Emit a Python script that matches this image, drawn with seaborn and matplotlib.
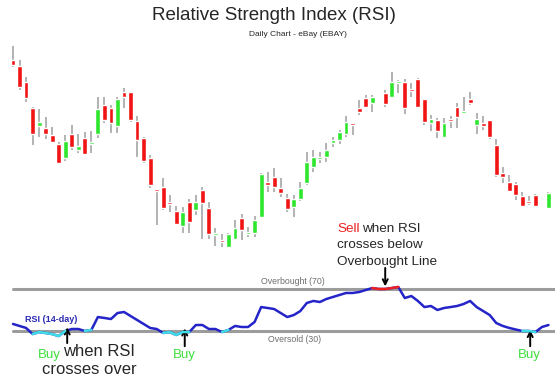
import numpy as np
import pandas as pd
import matplotlib
matplotlib.use("Agg")
import matplotlib.pyplot as plt
import seaborn as sns

nan = np.nan

# daily bars (price scale is arbitrary, axes are hidden); nan = no bar
opens = [24.0, 23.4, 21.8, 19.2, 17.4, 17.2, 16.5, 15.6, 14.2, 16.6,
         15.0, 16.2, 15.6, 16.6, 19.5, 19.2, 17.4, 20.8, 20.8, 17.9,
         16.2, 14.2, 11.1, 11.3, 9.8, 8.9, 7.4, 9.8, 9.0, 11.0,
         9.2, 6.5, 6.0, 5.3, 6.1, 8.2, 6.6, 6.7, 8.3, 11.8,
         12.3, 11.2, 10.2, 9.3, 10.1, 11.7, 13.3, 14.1, 14.3, 15.7,
         16.0, 16.6, 17.7, 19.2, 20.2, 19.7, nan, 20.7, 20.3, 21.7,
         21.8, 21.1, 22.1, 20.1, 17.7, 18.0, 16.3, 18.0, 19.3, 18.7,
         20.1, 17.5, 17.7, 18.0, 15.5, 12.7, 11.8, 11.6, 10.4, 9.8,
         10.5, nan, 9.2]
highs = [25.4, 24.0, 22.3, 19.3, 19.1, 18.3, 17.3, 15.8, 16.5, 17.5,
         16.6, 16.8, 16.9, 20.3, 20.3, 19.5, 20.3, 21.2, 20.8, 18.4,
         16.3, 14.5, 11.1, 12.2, 10.5, 9.4, 9.3, 10.1, 10.5, 11.3,
         9.8, 7.2, 6.6, 6.7, 8.0, 8.6, 7.3, 8.4, 12.7, 12.8,
         13.2, 12.2, 10.6, 10.5, 11.8, 14.8, 15.0, 14.8, 15.7, 16.3,
         17.0, 18.4, 17.7, 20.0, 20.5, 20.5, nan, 21.0, 22.8, 22.0,
         22.1, 21.7, 22.2, 20.1, 18.5, 18.2, 18.2, 18.4, 19.7, 20.3,
         20.8, 18.7, 18.4, 18.0, 16.1, 13.3, 12.5, 11.8, 10.8, 10.4,
         10.6, nan, 10.8]
lows = [23.3, 21.0, 19.8, 15.5, 16.3, 16.1, 15.7, 13.6, 13.9, 15.0,
        14.7, 14.5, 14.7, 16.2, 17.7, 16.7, 16.7, 19.2, 17.8, 14.3,
        13.7, 11.2, 7.5, 9.0, 8.8, 7.5, 6.7, 6.7, 8.5, 6.1,
        6.1, 5.4, 5.3, 5.2, 6.0, 6.0, 6.3, 6.3, 8.2, 10.8,
        10.8, 10.3, 8.8, 8.3, 9.9, 11.5, 12.8, 13.7, 13.8, 15.3,
        15.6, 16.3, 16.5, 18.5, 19.2, 18.8, nan, 19.3, 20.3, 20.7,
        18.6, 20.3, 19.2, 17.5, 16.9, 16.2, 16.2, 17.2, 17.2, 18.6,
        19.5, 16.6, 17.0, 16.1, 12.3, 11.7, 10.8, 10.0, 9.3, 9.5,
        9.3, nan, 9.1]
closes = [23.5, 21.3, 20.2, 16.6, 17.8, 16.6, 15.8, 13.7, 15.9, 15.3,
          15.4, 14.6, 15.8, 19.1, 18.0, 17.7, 20.1, 20.3, 18.0, 16.0,
          13.9, 11.5, 10.9, 9.2, 9.6, 7.6, 8.8, 7.8, 9.8, 9.7,
          6.6, 6.7, 5.8, 6.6, 7.2, 7.0, 6.7, 8.0, 12.6, 11.5,
          11.3, 10.7, 9.1, 10.1, 11.2, 13.8, 14.3, 14.3, 15.0, 16.0,
          16.8, 17.8, 17.5, 18.8, 19.3, 20.3, nan, 19.6, 21.8, 21.8,
          19.2, 20.9, 19.3, 17.8, 18.1, 16.9, 17.7, 17.9, 18.3, 18.8,
          19.7, 18.1, 17.4, 16.3, 12.5, 12.3, 10.9, 10.5, 9.4, 9.7,
          9.4, nan, 10.7]

# 14-day RSI per day
rsi = [36.7, 34.8, 32.9, 27.1, 29.0, 28.1, 27.1, 25.2, 30.0, 31.9,
       31.9, 30.0, 31.0, 43.3, 42.4, 41.4, 47.1, 48.1, 44.3, 40.5,
       36.7, 32.9, 31.9, 28.1, 29.0, 26.2, 29.0, 29.0, 35.7, 35.7,
       31.9, 31.9, 29.0, 31.0, 34.8, 33.8, 33.8, 38.6, 52.8, 51.9,
       50.9, 47.1, 43.3, 45.2, 49.0, 56.7, 58.6, 57.6, 60.5, 62.4,
       64.3, 66.2, 66.2, 67.1, 69.0, 70.9, 70.0, 70.0, 70.9, 71.9,
       61.4, 63.3, 58.6, 52.8, 53.8, 50.0, 51.9, 52.8, 53.8, 55.7,
       58.6, 52.8, 49.0, 45.2, 37.6, 34.8, 32.9, 31.4, 30.0, 30.0,
       29.0, 33.8, 35.7]

overbought, oversold = 70, 30

sns.set_style("white")
plt.rcParams["font.family"] = ["Liberation Sans", "DejaVu Sans"]

W, H = 555, 377
def fx(px):
    return px / W
def fy(py):
    return 1 - py / H

days = np.arange(len(rsi))
bars = pd.DataFrame({"day": days, "open": opens, "high": highs, "low": lows, "close": closes}).dropna()
rsi_df = pd.DataFrame({"day": days, "rsi": rsi})

fig = plt.figure(figsize=(W / 100, H / 100), dpi=100)
fig.patch.set_facecolor("white")
xlim = (-1.99, 83.0)

# price panel
ax1 = fig.add_axes([0, fy(255), 1, 215 / H])
up = bars["close"] >= bars["open"]
body_lo = bars[["open", "close"]].min(axis=1)
body_h = np.maximum((bars["close"] - bars["open"]).abs(), 0.18)
ax1.vlines(bars["day"], bars["low"], bars["high"], color="#a6a6a6", lw=1.2, zorder=1)
ax1.bar(bars["day"], body_h, bottom=body_lo, width=0.74,
        color=np.where(up, "#2ee62e", "#f01414"), zorder=2)
ax1.set_xlim(*xlim)
ax1.set_ylim(4.5, 26.0)
ax1.axis("off")

# RSI panel
ax2 = fig.add_axes([0, 0, 1, 117 / H])
ax2.patch.set_alpha(0)
for lvl in (overbought, oversold):
    ax2.axhline(lvl, xmin=13 / W, color="#9c9c9c", lw=2.2, zorder=1)
sns.lineplot(data=rsi_df, x="day", y="rsi", color="#2424c8", lw=1.8, ax=ax2, zorder=3)
for mask, col in [(rsi_df["rsi"] <= oversold + 1, "#3fdde6"),
                  (rsi_df["rsi"] >= overbought, "#ee2020")]:
    ax2.plot(rsi_df["day"], rsi_df["rsi"].where(mask), color=col, lw=1.8, zorder=4)
ax2.set_xlim(*xlim)
ax2.set_ylim(-13.8, 97.6)
ax2.axis("off")

arrow = dict(arrowstyle="->", color="black", lw=1.4, mutation_scale=9, shrinkA=0, shrinkB=0)
ax2.annotate("", xy=(57.0, 72.5), xytext=(57.0, 90.0), arrowprops=arrow, annotation_clip=False)
for d, tip, tail in [(8.3, 33.5, 18.5), (26.3, 32.5, 15.5), (79.2, 31.0, 15.5)]:
    ax2.annotate("", xy=(d, tip), xytext=(d, tail), arrowprops=arrow, annotation_clip=False)

# titles and labels
fig.text(fx(274), fy(16), "Relative Strength Index (RSI)", ha="center", va="center", fontsize=13.5)
fig.text(fx(298), fy(35), "Daily Chart - eBay (EBAY)", ha="center", va="center", fontsize=6)
fig.text(fx(25), fy(320), "RSI (14-day)", color="#2b2bb5", fontsize=6.5, fontweight="bold", va="center")
fig.text(fx(293), fy(281), "Overbought (70)", color="#6e6e6e", fontsize=6.3, ha="center", va="center")
fig.text(fx(295), fy(339), "Oversold (30)", color="#6e6e6e", fontsize=6.3, ha="center", va="center")

red_txt, green_txt = "#ee2222", "#3ddf3d"
fig.text(fx(337), fy(229), "Sell", color=red_txt, fontsize=9.7, va="center")
fig.text(fx(362), fy(229), "when RSI", fontsize=9.7, va="center")
fig.text(fx(337), fy(245), "crosses below", fontsize=9.7, va="center")
fig.text(fx(337), fy(262), "Overbought Line", fontsize=9.7, va="center")

fig.text(fx(38), fy(358), "Buy", color=green_txt, fontsize=9.5, va="baseline")
fig.text(fx(63), fy(356), "when RSI", fontsize=12, va="baseline")
fig.text(fx(42), fy(373.5), "crosses over", fontsize=12, va="baseline")
fig.text(fx(173), fy(358), "Buy", color=green_txt, fontsize=9.5, va="baseline")
fig.text(fx(518), fy(358), "Buy", color=green_txt, fontsize=9.5, va="baseline")

fig.savefig("out.png", dpi=100, facecolor="white")
